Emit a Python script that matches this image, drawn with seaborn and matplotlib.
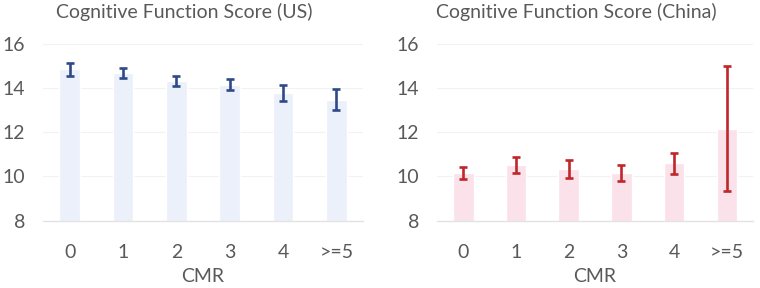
import matplotlib
matplotlib.use("Agg")
import matplotlib.pyplot as plt
import numpy as np
import pandas as pd
import seaborn as sns

# data
cmr = ["0", "1", "2", "3", "4", ">=5"]
us_score = [14.85, 14.70, 14.33, 14.15, 13.78, 13.48]
us_err = [0.30, 0.23, 0.22, 0.25, 0.35, 0.48]
cn_score = [10.15, 10.51, 10.33, 10.16, 10.59, 12.17]
cn_err = [0.26, 0.35, 0.40, 0.35, 0.48, 2.85]

sns.set_style("white")
plt.rcParams['font.family'] = ['Lato', 'DejaVu Sans']
text_col = "#595959"
fs = 14

fig = plt.figure(figsize=(7.6, 2.88), dpi=100)
ax1 = fig.add_axes([0.0566, 0.234, 0.421, 0.613])
ax2 = fig.add_axes([0.575, 0.234, 0.416, 0.613])

panels = [
    (ax1, us_score, us_err, "#EBF0FA", "#2F4A8A", "Cognitive Function Score (US)"),
    (ax2, cn_score, cn_err, "#FBE1E9", "#C0262A", "Cognitive Function Score (China)"),
]

for ax, score, err, bar_col, err_col, title in panels:
    df = pd.DataFrame({"CMR": cmr, "score": score})
    sns.barplot(data=df, x="CMR", y="score", color=bar_col, width=0.39,
                saturation=1, ax=ax, zorder=2)
    ax.errorbar(np.arange(len(cmr)), score, yerr=err, fmt="none",
                ecolor=err_col, elinewidth=1.9, capsize=3, capthick=1.9, zorder=3)
    ax.set_ylim(8, 16)
    ax.set_xlim(-0.5, 5.5)
    ax.set_yticks([8, 10, 12, 14, 16])
    ax.grid(axis="y", color="#F2F2F2", linewidth=0.8, zorder=0)
    for s in ["top", "right", "left"]:
        ax.spines[s].set_visible(False)
    ax.spines["bottom"].set_color("#E3E3E3")
    ax.spines["bottom"].set_linewidth(1.0)
    ax.tick_params(axis="y", length=0, pad=13, labelsize=fs, labelcolor=text_col)
    ax.tick_params(axis="x", length=0, pad=17, labelsize=fs, labelcolor=text_col)
    ax.set_xlabel("CMR", fontsize=fs, color=text_col, labelpad=5)
    ax.set_ylabel("")
    ax.set_title(title, fontsize=fs, color=text_col, x=0.44, pad=19)

fig.savefig("out.png", dpi=100)
